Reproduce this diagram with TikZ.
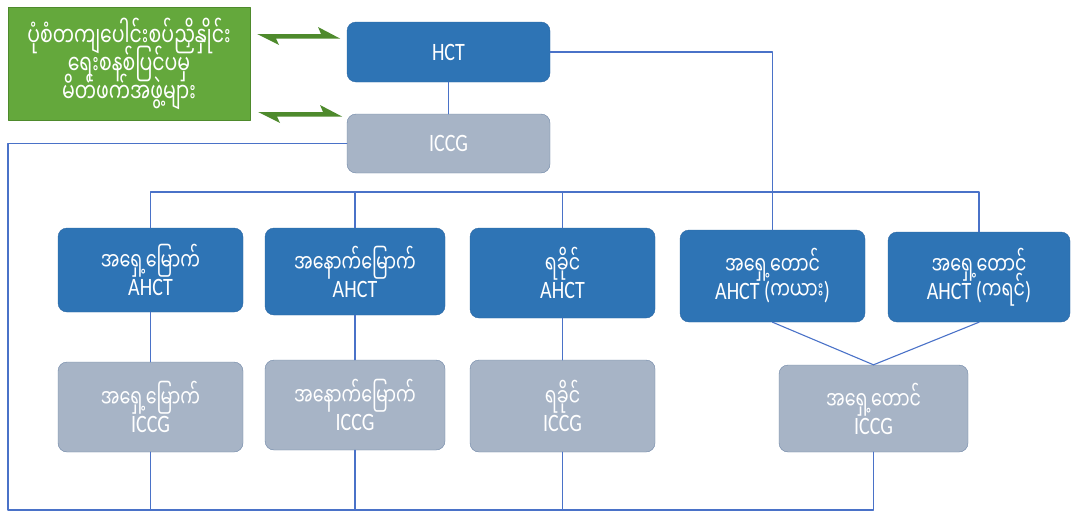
\documentclass[tikz,border=0pt]{standalone}
\usepackage{fontspec}
\setmainfont{Carlito}[FakeStretch=0.8]
\newfontfamily\mmfont[Script=Myanmar, FakeStretch=0.7]{Noto Sans Myanmar UI}
\usetikzlibrary{arrows.meta,positioning}
\newcommand\tightlines{\lineskiplimit=-50pt\relax}
\definecolor{hctblue}{HTML}{2E74B5}
\definecolor{hctedge}{HTML}{2A66A3}
\definecolor{iccggrey}{HTML}{A7B4C6}
\definecolor{iccgedge}{HTML}{6E86A6}
\definecolor{linkblue}{HTML}{4A72C8}
\definecolor{partgreen}{HTML}{64A83C}
\definecolor{partedge}{HTML}{4E8A2C}
\tikzset{
    hctbox/.style={draw=hctedge, fill=hctblue, rounded corners=9pt, text=white,
        align=center, inner sep=0pt,
        font=\fontsize{25}{25}\selectfont\tightlines},
    iccgbox/.style={draw=iccgedge, fill=iccggrey, rounded corners=9pt, text=white,
        align=center, inner sep=0pt,
        font=\fontsize{25}{25}\selectfont\tightlines},
    link/.style={draw=linkblue, line width=1.1pt}
}

\begin{document}
\begin{tikzpicture}[x=1pt, y=-1pt, line cap=round, line join=round]

    \useasboundingbox (0,0) rectangle (1073,514);

    % ပြင်ပ မိတ်ဖက်များ
    \node[draw=partedge, fill=partgreen, text=white, align=center, inner sep=0pt,
        minimum width=242pt, minimum height=113pt,
        font=\mmfont\fontsize{27}{28}\selectfont\tightlines] (partners) at (129,63.5)
        {ပုံစံတကျပေါင်းစပ်ညှိနှိုင်း\\ရေးစနစ်ပြင်ပမှ\\မိတ်ဖက်အဖွဲ့များ};

    % HCT နှင့် ICCG
    \node[hctbox, minimum width=203pt, minimum height=60pt] (hct) at (448.5,52) {HCT};
    \node[iccgbox, minimum width=203pt, minimum height=59pt] (iccg) at (448.5,143.5) {ICCG};

    % AHCT အဆင့်
    \node[hctbox, minimum width=185pt, minimum height=84pt] (ahctne) at (150.5,270)
        {{\mmfont အရှေ့မြောက်}\\AHCT};
    \node[hctbox, minimum width=180pt, minimum height=87pt] (ahctnw) at (355,271.5)
        {{\mmfont အနောက်မြောက်}\\AHCT};
    \node[hctbox, minimum width=185pt, minimum height=90pt] (ahctrk) at (562.5,273)
        {{\mmfont ရခိုင်}\\AHCT};
    \node[hctbox, minimum width=185pt, minimum height=92pt] (ahctky) at (772.5,276)
        {{\mmfont အရှေ့တောင်}\\AHCT ({\mmfont ကယား})};
    \node[hctbox, minimum width=182pt, minimum height=90pt] (ahctkn) at (979,277)
        {{\mmfont အရှေ့တောင်}\\AHCT ({\mmfont ကရင်})};

    % ICCG အဆင့်
    \node[iccgbox, minimum width=185pt, minimum height=90pt] (iccgne) at (150.5,407)
        {{\mmfont အရှေ့မြောက်}\\ICCG};
    \node[iccgbox, minimum width=180pt, minimum height=90pt] (iccgnw) at (355,405)
        {{\mmfont အနောက်မြောက်}\\ICCG};
    \node[iccgbox, minimum width=185pt, minimum height=92pt] (iccgrk) at (562.5,406)
        {{\mmfont ရခိုင်}\\ICCG};
    \node[iccgbox, minimum width=189pt, minimum height=87pt] (iccgse) at (873.5,408.5)
        {{\mmfont အရှေ့တောင်}\\ICCG};

    % လမ်းကြောင်း အမှတ်များ
    \coordinate (bus) at (0,192);
    \coordinate (corner) at (8,510);
    \coordinate (ga1) at (257,34);
    \coordinate (ga2) at (258,112);

    % မိတ်ဖက်များနှင့် အပြန်အလှန်
    \fill[partedge] (ga1) -- ++(22,11) -- ++(-3,-6.5) -- ++(64,0) -- ++(-22,-11.5) -- ++(3,7) -- cycle;
    \fill[partedge] (ga2) -- ++(22,11) -- ++(-3,-6.5) -- ++(65,0) -- ++(-22,-11.5) -- ++(3,7) -- cycle;

    % HCT ချိတ်ဆက်မှု
    \draw[link] (hct.south) -- (iccg.north);
    \draw[link] (hct.east) -| (ahctky.north);
    \draw[link] (ahctne.north) -- (ahctne.north |- bus) -- (ahctkn.north |- bus) -- (ahctkn.north);
    \draw[link] (ahctnw.north) -- (ahctnw.north |- bus);
    \draw[link] (ahctrk.north) -- (ahctrk.north |- bus);

    % AHCT မှ ICCG
    \draw[link] (ahctne.south) -- (iccgne.north);
    \draw[link] (ahctnw.south) -- (iccgnw.north);
    \draw[link] (ahctrk.south) -- (iccgrk.north);
    \draw[link] (ahctky.south) -- (iccgse.north);
    \draw[link] (ahctkn.south) -- (iccgse.north);

    % ICCG အောက်ခြေ လမ်းကြောင်း
    \draw[link] (iccg.west) -| (corner) -| (iccgse.south);
    \draw[link] (iccgne.south) -- (iccgne.south |- corner);
    \draw[link] (iccgnw.south) -- (iccgnw.south |- corner);
    \draw[link] (iccgrk.south) -- (iccgrk.south |- corner);

\end{tikzpicture}
\end{document}
